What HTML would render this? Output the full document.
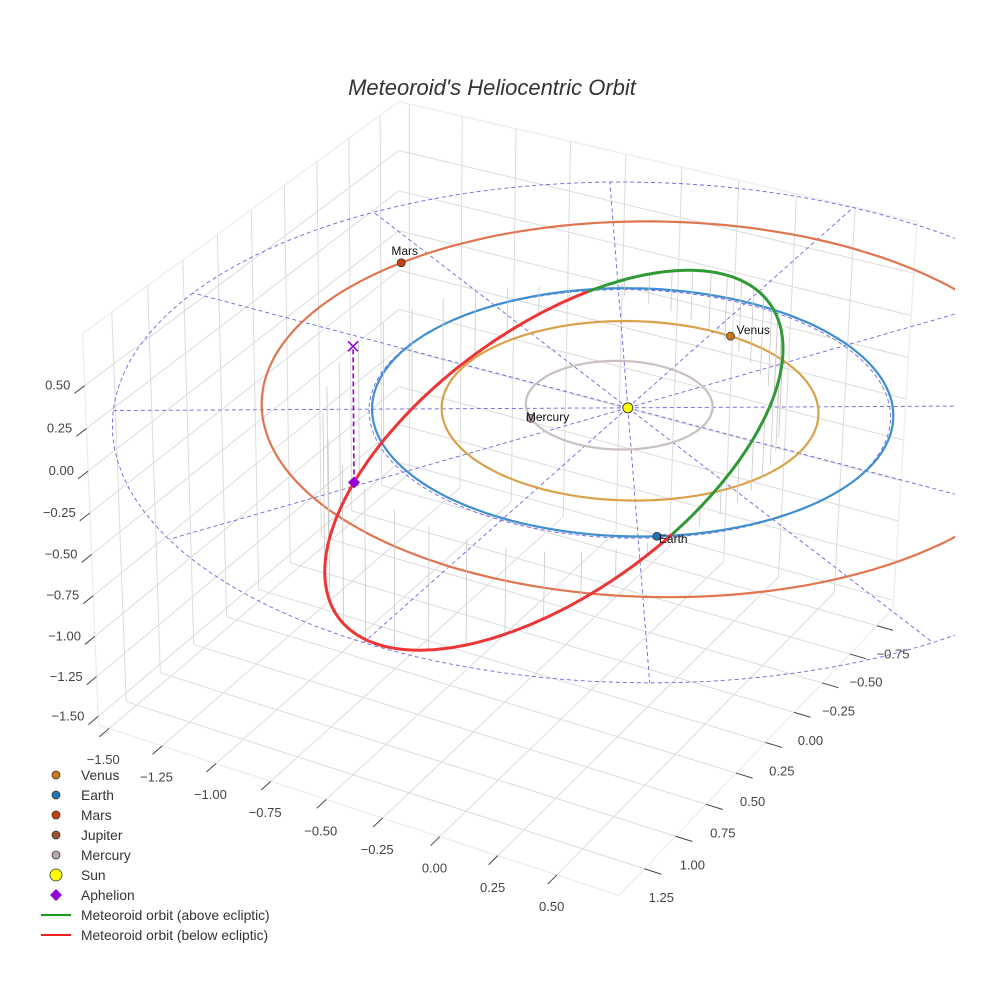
<!DOCTYPE html>
<html><head><meta charset="utf-8">
<style>
html,body{margin:0;padding:0;background:#fff;}
svg{display:block;font-family:"Liberation Sans",sans-serif;}
</style></head>
<body>
<svg id="chart" width="984" height="984" viewBox="0 0 984 984" xmlns="http://www.w3.org/2000/svg">
<rect width="984" height="984" fill="#fff"/>
<defs><clipPath id="sceneClip"><rect x="0" y="0" width="955" height="984"/></clipPath></defs>
<text x="492" y="95" text-anchor="middle" font-size="22" font-style="italic" fill="#333">Meteoroid's Heliocentric Orbit</text>
<g id="grid"></g>
<g id="ticks"></g>
<g id="scene" clip-path="url(#sceneClip)"></g>
<g id="legend"></g>
</svg>
<script>
// ---- data ----
const xTicks = [-1.5,-1.25,-1.0,-0.75,-0.5,-0.25,0,0.25,0.5];
const yTicks = [-0.75,-0.5,-0.25,0,0.25,0.5,0.75,1.0,1.25];
const zTicks = [-1.5,-1.25,-1.0,-0.75,-0.5,-0.25,0,0.25,0.5];
const xRange = [-1.55,0.76];
const yRange = [-0.9,1.45];
const zRange = [-1.555,0.8];
const planetNames = ["Mercury","Venus","Earth","Mars"];
const planetA = [0.36,0.723,1.0,1.524];
const planetE = [0.12,0.007,0.017,0.093];
const planetPeri = [10,131,103,105];
const planetLon = [138,-84,56,205];
const planetColors = ["#b8aaaa","#c97a12","#1f77b4","#c4420e"];
const orbitColors = ["#c9c0bf","#d9a24a","#3f8fd0","#e07550"];
const meteorP = [1.0];
const meteorE = [0.35];
const meteorI = [140];
const meteorNode = [53.6];
const meteorArgPeri = [90];
const aphelionNu = [154];
const refRingRadii = [2.0,1.0];
const spokeAngles = [0,30,60,90,120,150,180,210,240,270,300,330];

// ---- projection (fitted camera) ----
const corr = [
 [xRange[0],yRange[1],zRange[0],100,727],
 [xRange[1],yRange[1],zRange[0],619,894],
 [xRange[1],yRange[0],zRange[0],893,612],
 [xRange[0],yRange[0],zRange[0],398,468],
 [xRange[0],yRange[1],zRange[1],81,334],
 [xRange[0],yRange[0],zRange[1],400,103],
 [0,0,0,628,405]
];
function solveCam(){
  const A=[],b=[];
  corr.forEach(c=>{const [X,Y,Z,u,v]=c;
    A.push([X,Y,Z,1,0,0,0,0,-u*X,-u*Y,-u*Z]);b.push(u);
    A.push([0,0,0,0,X,Y,Z,1,-v*X,-v*Y,-v*Z]);b.push(v);});
  const n=11,N=[],r=[];
  for(let i=0;i<n;i++){N.push(new Array(n).fill(0));r.push(0);
    for(let k=0;k<A.length;k++){r[i]+=A[k][i]*b[k];for(let j=0;j<n;j++)N[i][j]+=A[k][i]*A[k][j];}}
  for(let c=0;c<n;c++){let p=c;for(let i=c+1;i<n;i++)if(Math.abs(N[i][c])>Math.abs(N[p][c]))p=i;
    [N[c],N[p]]=[N[p],N[c]];[r[c],r[p]]=[r[p],r[c]];
    for(let i=0;i<n;i++){if(i===c)continue;const f=N[i][c]/N[c][c];
      for(let j=c;j<n;j++)N[i][j]-=f*N[c][j];r[i]-=f*r[c];}}
  return r.map((v,i)=>v/N[i][i]);
}
const M=solveCam();
function P(X,Y,Z){const w=M[8]*X+M[9]*Y+M[10]*Z+1;
  return [(M[0]*X+M[1]*Y+M[2]*Z+M[3])/w,(M[4]*X+M[5]*Y+M[6]*Z+M[7])/w];}

const NS="http://www.w3.org/2000/svg";
function mk(tag,attrs,parent){const e=document.createElementNS(NS,tag);for(const k in attrs)e.setAttribute(k,attrs[k]);parent.appendChild(e);return e;}
function line3(a,b,attrs,parent){const p=P(...a),q=P(...b);return mk("line",Object.assign({x1:p[0],y1:p[1],x2:q[0],y2:q[1]},attrs),parent);}
function poly(pts){return pts.map(p=>{const s=P(...p);return s[0].toFixed(1)+","+s[1].toFixed(1);}).join(" ");}
const fmt=v=>(v<0?"\u2212":"")+Math.abs(v).toFixed(2);

// ---- grid ----
const grid=document.getElementById("grid");
const gs={stroke:"#dcdcdc","stroke-width":1};
xTicks.forEach(x=>{
  let e=line3([x,yRange[0],zRange[0]],[x,yRange[1],zRange[0]],gs,grid);
  
  e=line3([x,yRange[0],zRange[0]],[x,yRange[0],zRange[1]],gs,grid);
  });
yTicks.forEach(y=>{
  let e=line3([xRange[0],y,zRange[0]],[xRange[1],y,zRange[0]],gs,grid);
  
  e=line3([xRange[0],y,zRange[0]],[xRange[0],y,zRange[1]],gs,grid);
  });
zTicks.forEach(z=>{
  let e=line3([xRange[0],yRange[0],z],[xRange[0],yRange[1],z],gs,grid);
  
  e=line3([xRange[0],yRange[0],z],[xRange[1],yRange[0],z],gs,grid);
  });
const es={stroke:"#ececec","stroke-width":1.2};
[[[xRange[0],yRange[1],zRange[0]],[xRange[1],yRange[1],zRange[0]]],
 [[xRange[1],yRange[1],zRange[0]],[xRange[1],yRange[0],zRange[0]]],
 [[xRange[0],yRange[1],zRange[0]],[xRange[0],yRange[1],zRange[1]]],
 [[xRange[0],yRange[1],zRange[1]],[xRange[0],yRange[0],zRange[1]]],
 [[xRange[0],yRange[0],zRange[1]],[xRange[1],yRange[0],zRange[1]]],
 [[xRange[1],yRange[0],zRange[0]],[xRange[1],yRange[0],zRange[1]]]].forEach(s=>{
  const e=line3(s[0],s[1],es,grid);
  });

// ---- ticks ----
const tk=document.getElementById("ticks");
const ts={stroke:"#444","stroke-width":1};
xTicks.forEach(x=>{
  const a=[x,yRange[1],zRange[0]],b=[x,yRange[1]+0.07,zRange[0]];
  const e=line3(a,b,ts,tk);
  const q=P(...b);
  const t=mk("text",{x:q[0]+4,y:q[1]+27,"text-anchor":"middle","font-size":13,fill:"#444"},tk);
  t.textContent=fmt(x);});
yTicks.forEach(y=>{
  const a=[xRange[1],y,zRange[0]],b=[xRange[1]+0.07,y,zRange[0]];
  const e=line3(a,b,ts,tk);
  const q=P(...b);
  const t=mk("text",{x:q[0],y:q[1]+28,"text-anchor":"middle","font-size":13,fill:"#444"},tk);
  t.textContent=fmt(y);});
zTicks.forEach(z=>{
  const a=[xRange[0],yRange[1],z],b=[xRange[0],yRange[1]+0.07,z];
  const e=line3(a,b,ts,tk);
  const q=P(...b);
  const t=mk("text",{x:q[0]-4,y:q[1]-4,"text-anchor":"end","font-size":13,fill:"#444"},tk);
  t.textContent=fmt(z);});

// ---- scene ----
const sc=document.getElementById("scene");
const rad=d=>d*Math.PI/180;
refRingRadii.forEach((R,k)=>{
  const pts=[];for(let t=0;t<=360;t+=3)pts.push([R*Math.cos(rad(t)),R*Math.sin(rad(t)),0]);
  const e=mk("polyline",{points:poly(pts),fill:"none",stroke:"#6f63e0","stroke-width":0.9,"stroke-dasharray":"4,3"},sc);
  });
spokeAngles.forEach(a=>{
  const R=refRingRadii[0];
  const e=line3([0,0,0],[R*Math.cos(rad(a)),R*Math.sin(rad(a)),0],{stroke:"#6f63e0","stroke-width":0.9,"stroke-dasharray":"4,3"},sc);
  });
function prad(i,th){return planetA[i]*(1-planetE[i]*planetE[i])/(1+planetE[i]*Math.cos(rad(th-planetPeri[i])));}
planetNames.forEach((n,i)=>{
  const pts=[];for(let t=0;t<=360;t+=2){const r=prad(i,t);pts.push([r*Math.cos(rad(t)),r*Math.sin(rad(t)),0]);}
  const e=mk("polyline",{points:poly(pts),fill:"none",stroke:orbitColors[i],"stroke-width":2.2},sc);
  });
const inc=rad(meteorI[0]),Om=rad(meteorNode[0]),w=rad(meteorArgPeri[0]);
function mpos(nu){const r=meteorP[0]/(1+meteorE[0]*Math.cos(rad(nu)));const u=w+rad(nu);
  return [r*(Math.cos(Om)*Math.cos(u)-Math.sin(Om)*Math.sin(u)*Math.cos(inc)),
          r*(Math.sin(Om)*Math.cos(u)+Math.cos(Om)*Math.sin(u)*Math.cos(inc)),
          r*Math.sin(u)*Math.sin(inc)];}
const mpts=[];for(let nu=0;nu<=360;nu+=1)mpts.push(mpos(nu));
mpts.forEach((p,k)=>{if(k%8!==0)return;
  const e=line3(p,[p[0],p[1],0],{stroke:"#c8c8c8","stroke-width":0.8},sc);
  });
let segs=[],cur=[],sign=null;
mpts.forEach(p=>{const s=p[2]>=0;if(sign===null||s===sign){cur.push(p);}else{cur.push(p);segs.push([sign,cur]);cur=[p];}sign=s;});
segs.push([sign,cur]);
segs.forEach(s=>{const e=mk("polyline",{points:poly(s[1]),fill:"none",stroke:s[0]?"#2f9a35":"#ee3535","stroke-width":3,"stroke-linejoin":"round"},sc);
  });
const aph=mpos(aphelionNu[0]);
{const e=line3(aph,[aph[0],aph[1],0],{stroke:"#9400d3","stroke-width":1.6,"stroke-dasharray":"5,3"},sc);
 }
{const q=P(aph[0],aph[1],0);
 const e=mk("path",{d:`M${q[0]-5},${q[1]-5}L${q[0]+5},${q[1]+5}M${q[0]-5},${q[1]+5}L${q[0]+5},${q[1]-5}`,stroke:"#9400d3","stroke-width":1.5},sc);
 }
{const q=P(...aph);
 const e=mk("path",{d:`M${q[0]},${q[1]-6}L${q[0]+6},${q[1]}L${q[0]},${q[1]+6}L${q[0]-6},${q[1]}Z`,fill:"#9400d3"},sc);
 }
{const q=P(0,0,0);
 const e=mk("circle",{cx:q[0],cy:q[1],r:5,fill:"#ffff00",stroke:"#444","stroke-width":1},sc);
 }
const labelOff={Mercury:[-5,3,"start"],Venus:[6,-2,"start"],Earth:[2,7,"start"],Mars:[-10,-8,"start"]};
planetNames.forEach((n,i)=>{
  const r=prad(i,planetLon[i]);const q=P(r*Math.cos(rad(planetLon[i])),r*Math.sin(rad(planetLon[i])),0);
  const e=mk("circle",{cx:q[0],cy:q[1],r:4,fill:planetColors[i],stroke:"#333","stroke-width":0.8},sc);
  
  const o=labelOff[n];
  const t=mk("text",{x:q[0]+o[0],y:q[1]+o[1],"font-size":12,fill:"#111","text-anchor":o[2]},sc);
  t.textContent=n;});

// ---- legend ----
const lg=document.getElementById("legend");
const legNames=["Venus","Earth","Mars","Jupiter","Mercury","Sun","Aphelion","Meteoroid orbit (above ecliptic)","Meteoroid orbit (below ecliptic)"];
const legColors=["#c97a12","#1f77b4","#c4420e","#a0522d","#b8aaaa","#ffff00","#9400d3","#1a9a1a","#ee2222"];
legNames.forEach((n,k)=>{
  const y=775+k*20;
  const g=mk("g",{},lg);
  
  
  if(k<=4){mk("circle",{cx:56,cy:y,r:4,fill:legColors[k],stroke:"#333","stroke-width":0.8},g);}
  else if(k===5){mk("circle",{cx:56,cy:y,r:6,fill:legColors[k],stroke:"#333","stroke-width":0.8},g);}
  else if(k===6){mk("path",{d:`M56,${y-6}L62,${y}L56,${y+6}L50,${y}Z`,fill:legColors[k]},g);}
  else {mk("line",{x1:41,y1:y,x2:71,y2:y,stroke:legColors[k],"stroke-width":2},g);}
  const t=mk("text",{x:81,y:y+5,"font-size":13.8,fill:"#333"},g);t.textContent=n;});
</script>
</body></html>
